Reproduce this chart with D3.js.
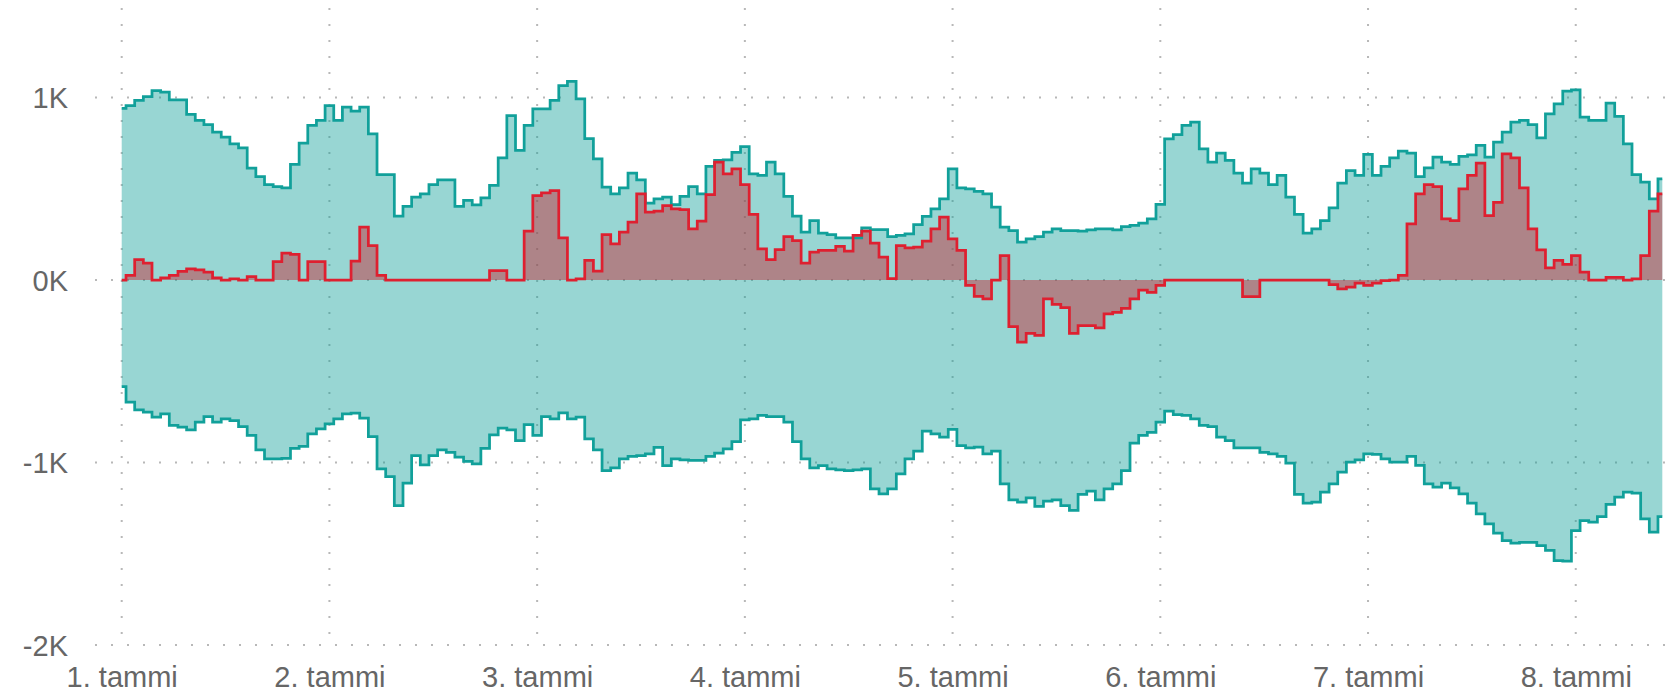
<!DOCTYPE html>
<html>
<head>
<meta charset="utf-8">
<script src="https://cdn.jsdelivr.net/npm/d3@7"></script>
<style>
  html, body { margin: 0; padding: 0; background: #fff; }
  svg { display: block; font-family: "Open Sans", "Noto Sans", sans-serif; }
  .grid line { stroke: #b8b8b8; stroke-width: 2; stroke-dasharray: 2 14; }
  .axis text { fill: #666; font-size: 29px; }
</style>
</head>
<body>
<svg id="chart" width="1668" height="694"></svg>
<script>
// Hourly series, 1. tammi 00:00 .. 8. tammi 10:00

var startDate = new Date(2023, 0, 1, 0, 0);

var upper = [
  941, 956, 984, 1005, 1038, 1029, 987, 987, 907, 874, 852, 810, 783, 746, 724, 613, 567, 523, 512, 505, 633, 750, 847, 874,
  956, 874, 947, 925, 947, 801, 578, 578, 350, 404, 454, 472, 523, 549, 549, 403, 436, 412, 450, 518, 669, 901, 710, 847,
  938, 938, 984, 1065, 1088, 993, 774, 664, 509, 472, 505, 585, 549, 421, 445, 454, 413, 458, 512, 472, 622, 655, 658, 700,
  731, 582, 573, 646, 582, 458, 350, 262, 326, 257, 249, 231, 231, 231, 285, 276, 276, 238, 244, 253, 304, 348, 390, 445,
  609, 505, 500, 485, 472, 399, 290, 271, 207, 226, 238, 262, 280, 271, 271, 268, 275, 280, 280, 275, 293, 299, 311, 335,
  414, 773, 797, 847, 865, 719, 646, 695, 655, 585, 531, 609, 585, 523, 573, 454, 359, 257, 280, 326, 395, 531, 600, 573,
  688, 573, 622, 669, 706, 695, 567, 615, 673, 646, 633, 677, 686, 737, 673, 755, 810, 865, 874, 852, 779, 910, 965, 1035,
  1042, 892, 874, 874, 969, 896, 746, 578, 536, 445, 554
];

var net = [
  0, 25, 112, 92, 0, 12, 25, 47, 61, 56, 43, 12, 0, 6, 0, 19, 0, 0, 101, 147, 140, 0, 101, 101,
  0, 0, 0, 103, 290, 189, 25, 0, 0, 0, 0, 0, 0, 0, 0, 0, 0, 0, 0, 52, 52, 0, 0, 268,
  462, 477, 490, 231, 0, 6, 107, 48, 249, 198, 262, 317, 472, 372, 377, 408, 390, 385, 280, 322, 468, 646, 582, 609,
  523, 359, 171, 111, 167, 238, 216, 92, 153, 162, 162, 184, 158, 244, 268, 202, 125, 8, 189, 176, 180, 213, 280, 344,
  226, 162, -30, -90, -103, 0, 134, -255, -341, -292, -304, -103, -134, -152, -292, -250, -250, -262, -186, -177, -155, -103, -56, -68,
  -30, 0, 0, 0, 0, 0, 0, 0, 0, 0, -91, -91, 0, 0, 0, 0, 0, 0, 0, 0, -25, -48, -39, -17,
  -30, -17, -3, 0, 25, 308, 472, 523, 512, 335, 326, 499, 573, 640, 353, 426, 691, 669, 505, 280, 165, 67, 107, 85,
  134, 43, 0, 0, 15, 15, 0, 6, 134, 377, 472
];

var lower = [
  -584, -669, -711, -724, -752, -733, -797, -806, -821, -779, -749, -779, -761, -770, -803, -852, -931, -980, -980, -977, -922, -912, -843, -816,
  -788, -761, -733, -730, -757, -858, -1035, -1077, -1236, -1113, -962, -1013, -962, -931, -944, -971, -994, -1007, -922, -849, -812, -821, -880, -792,
  -852, -748, -761, -728, -761, -752, -870, -931, -1044, -1029, -980, -967, -962, -953, -917, -1017, -980, -986, -989, -989, -967, -949, -925, -885,
  -766, -761, -742, -748, -748, -779, -885, -980, -1029, -1017, -1035, -1040, -1044, -1040, -1035, -1145, -1172, -1145, -1062, -980, -938, -828, -843, -861,
  -819, -907, -920, -916, -953, -938, -1117, -1205, -1217, -1194, -1241, -1212, -1205, -1236, -1263, -1175, -1157, -1205, -1145, -1117, -1044, -894, -852, -835,
  -779, -719, -737, -742, -761, -797, -803, -861, -880, -920, -920, -920, -944, -953, -967, -1004, -1175, -1223, -1217, -1163, -1117, -1053, -998, -986,
  -953, -956, -980, -998, -998, -967, -1016, -1117, -1135, -1113, -1139, -1172, -1223, -1281, -1336, -1387, -1428, -1442, -1437, -1437, -1455, -1482, -1537, -1541,
  -1373, -1318, -1327, -1296, -1230, -1190, -1163, -1168, -1309, -1382, -1296
];

var yTicks = [-2000, -1000, 0, 1000];
var dayTicks = [1, 2, 3, 4, 5, 6, 7, 8];
var monthName = "tammi";

///////////////////////////////////////////////////////////////////////////////
// Scales

var hours = upper.map(function (v, i) { return d3.timeHour.offset(startDate, i); });

var x = d3.scaleTime()
  .domain([hours[0], hours[hours.length - 1]])
  .range([121.7, 1662.3]);

var y = d3.scaleLinear()
  .domain([-2000, 1500])
  .range([645, 6.25]);

var svg = d3.select("#chart");

///////////////////////////////////////////////////////////////////////////////
// Dotted grid

var grid = svg.append("g").attr("class", "grid");

grid.selectAll("line.h")
  .data(yTicks)
  .enter().append("line")
  .attr("class", "h")
  .attr("x1", 95).attr("x2", 1668)
  .attr("y1", function (d) { return y(d); })
  .attr("y2", function (d) { return y(d); });

var dayDates = dayTicks.map(function (d) { return new Date(2023, 0, d); });

grid.selectAll("line.v")
  .data(dayDates)
  .enter().append("line")
  .attr("class", "v")
  .attr("x1", function (d) { return x(d); })
  .attr("x2", function (d) { return x(d); })
  .attr("y1", 8).attr("y2", 647);

///////////////////////////////////////////////////////////////////////////////
// Areas and lines

var series = function (values) {
  return values.map(function (v, i) { return {t: hours[i], v: v}; });
};

var area = d3.area()
  .curve(d3.curveStep)
  .x(function (d) { return x(d.t); })
  .y0(y(0))
  .y1(function (d) { return y(d.v); });

var line = d3.line()
  .curve(d3.curveStep)
  .x(function (d) { return x(d.t); })
  .y(function (d) { return y(d.v); });

var teal = "rgb(17,160,154)";
var red = "rgb(222,32,48)";

[upper, lower].forEach(function (values) {
  svg.append("path")
    .attr("d", area(series(values)))
    .attr("fill", teal)
    .attr("fill-opacity", 0.43);
});

svg.append("path")
  .attr("d", area(series(net)))
  .attr("fill", "rgb(200,40,50)")
  .attr("fill-opacity", 0.47);

[upper, lower].forEach(function (values) {
  svg.append("path")
    .attr("d", line(series(values)))
    .attr("fill", "none")
    .attr("stroke", teal)
    .attr("stroke-width", 2.75);
});

svg.append("path")
  .attr("d", line(series(net)))
  .attr("fill", "none")
  .attr("stroke", red)
  .attr("stroke-width", 2.75);

///////////////////////////////////////////////////////////////////////////////
// Axes

var xAxis = svg.append("g")
  .attr("class", "axis")
  .attr("transform", "translate(0,645)")
  .call(d3.axisBottom(x)
    .tickValues(dayDates)
    .tickSize(0)
    .tickFormat(function (d) { return d.getDate() + ". " + monthName; }));

xAxis.select(".domain").remove();
xAxis.selectAll("text").attr("y", 42).attr("dy", 0);

var yAxis = svg.append("g")
  .attr("class", "axis")
  .attr("transform", "translate(68,0)")
  .call(d3.axisLeft(y)
    .tickValues(yTicks)
    .tickSize(0)
    .tickPadding(0)
    .tickFormat(function (d) { return (d / 1000) + "K"; }));

yAxis.select(".domain").remove();
yAxis.selectAll("text").attr("dy", "0.36em");
</script>
</body>
</html>
